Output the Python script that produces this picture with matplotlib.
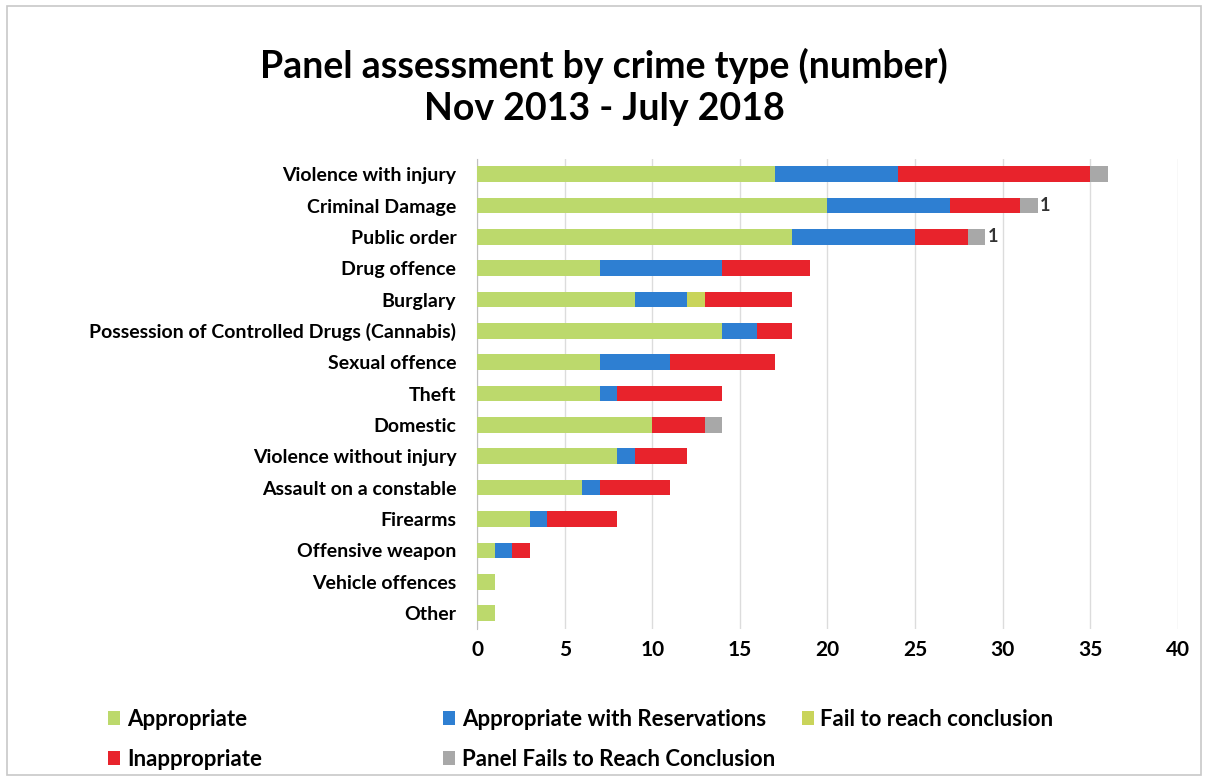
import matplotlib.pyplot as plt
from matplotlib.patches import Rectangle
import numpy as np

plt.rcParams['font.family'] = ['Lato', 'DejaVu Sans']

categories = ['Violence with injury', 'Criminal Damage', 'Public order', 'Drug offence',
              'Burglary', 'Possession of Controlled Drugs (Cannabis)', 'Sexual offence',
              'Theft', 'Domestic', 'Violence without injury', 'Assault on a constable',
              'Firearms', 'Offensive weapon', 'Vehicle offences', 'Other']

appropriate = [17, 20, 18, 7, 9, 14, 7, 7, 10, 8, 6, 3, 1, 1, 1]
with_reservations = [7, 7, 7, 7, 3, 2, 4, 1, 0, 1, 1, 1, 1, 0, 0]
fail_conclusion = [0, 0, 0, 0, 1, 0, 0, 0, 0, 0, 0, 0, 0, 0, 0]
inappropriate = [11, 4, 3, 5, 5, 2, 6, 6, 3, 3, 4, 4, 1, 0, 0]
panel_fails = [1, 1, 1, 0, 0, 0, 0, 0, 1, 0, 0, 0, 0, 0, 0]
# only these rows carry a data label on the grey segment
panel_label_rows = ['Criminal Damage', 'Public order']

series = [
    ('Appropriate', appropriate, '#bcd96c'),
    ('Appropriate with Reservations', with_reservations, '#2e7fd2'),
    ('Fail to reach conclusion', fail_conclusion, '#c9d45a'),
    ('Inappropriate', inappropriate, '#e8232c'),
    ('Panel Fails to Reach Conclusion', panel_fails, '#a8a8a8'),
]

fig = plt.figure(figsize=(12.08, 7.81), dpi=100)
fig.patches.append(Rectangle((0.006, 0.008), 0.988, 0.984, transform=fig.transFigure,
                             fill=False, edgecolor='#c8c8c8', linewidth=1.2))

ax = fig.add_axes([0.395, 0.195, 0.580, 0.602])
y = np.arange(len(categories))
left = np.zeros(len(categories))
handles = {}
for name, vals, color in series:
    vals = np.array(vals, dtype=float)
    h = ax.barh(y, vals, left=left, height=0.5, color=color, edgecolor='none', label=name, zorder=3)
    handles[name] = h
    left += vals

for i, cat in enumerate(categories):
    if cat in panel_label_rows:
        ax.text(left[i] + 0.15, y[i], str(panel_fails[i]), va='center', ha='left',
                fontsize=13, fontweight='bold', color='#333333', zorder=4)

ax.set_xlim(0, 40)
ax.set_ylim(len(categories) - 0.5, -0.5)
ax.set_xticks(np.arange(0, 41, 5))
ax.set_yticks(y)
ax.set_yticklabels(categories, fontsize=14, fontweight='bold')
ax.tick_params(axis='x', labelsize=15, length=0, pad=8)
ax.tick_params(axis='y', length=0, pad=15)
for lbl in ax.get_xticklabels():
    lbl.set_fontweight('bold')
ax.grid(axis='x', color='#dcdcdc', linewidth=1, zorder=0)
for side in ['top', 'right', 'bottom']:
    ax.spines[side].set_visible(False)
ax.spines['left'].set_color('#bfbfbf')

fig.text(0.5, 0.915, 'Panel assessment by crime type (number)', ha='center', va='center',
         fontsize=27, fontweight='bold')
fig.text(0.5, 0.860, 'Nov 2013 - July 2018', ha='center', va='center',
         fontsize=27, fontweight='bold')

leg_kw = dict(frameon=False, fontsize=16, handlelength=0.55, handleheight=0.55,
              handletextpad=0.3, labelspacing=0.85, loc='upper left')
cols = [
    (0.073, ['Appropriate', 'Inappropriate']),
    (0.350, ['Appropriate with Reservations', 'Panel Fails to Reach Conclusion']),
    (0.647, ['Fail to reach conclusion']),
]
for x0, names in cols:
    leg = fig.legend([handles[n] for n in names], names, bbox_to_anchor=(x0, 0.118), **leg_kw)
    for t in leg.get_texts():
        t.set_fontweight('bold')

fig.savefig('out.png', dpi=100)
